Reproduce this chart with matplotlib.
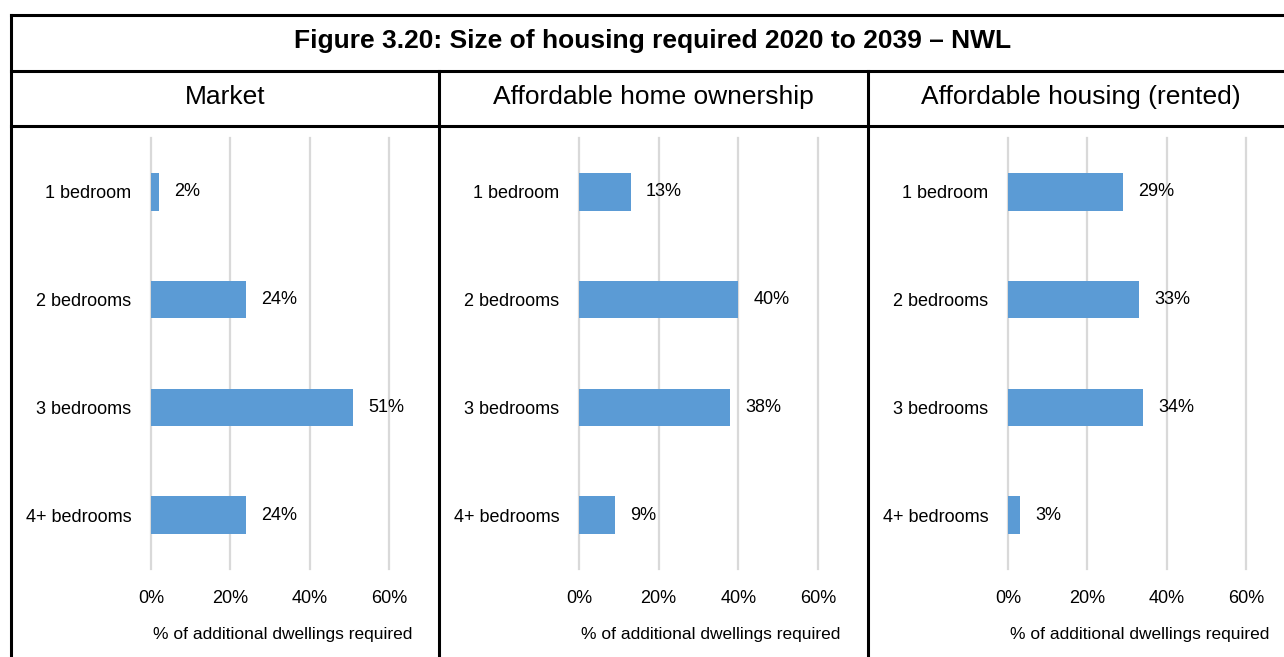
import numpy as np
import matplotlib.pyplot as plt
from matplotlib.lines import Line2D

plt.rcParams['font.family'] = ['Liberation Sans', 'DejaVu Sans']

# ---------------------------------------------------------------------------
# Data
# ---------------------------------------------------------------------------
title = 'Figure 3.20: Size of housing required 2020 to 2039 – NWL'
panels = ['Market', 'Affordable home ownership', 'Affordable housing (rented)']
categories = ['1 bedroom', '2 bedrooms', '3 bedrooms', '4+ bedrooms']
market = [2, 24, 51, 24]
home_ownership = [13, 40, 38, 9]
rented = [29, 33, 34, 3]
x_ticks = [0, 20, 40, 60]
x_label = '% of additional dwellings required'

W, H = 1284, 657
bar_colour = '#5b9bd5'
grid_colour = '#d9d9d9'

fig = plt.figure(figsize=(W / 100, H / 100), dpi=100)


def fx(px):
    return px / W


def fy(py):
    return 1 - py / H


def fline(x0, y0, x1, y1, lw=2.2):
    fig.add_artist(Line2D([fx(x0), fx(x1)], [fy(y0), fy(y1)],
                          color='black', lw=lw, transform=fig.transFigure))


# frame of the table (right edge is cut off in the original)
left, right, top = 11, W, 15
fline(left, top, right, top)
fline(left, top, left, H)
fline(left, 71, right, 71)
fline(left, 126, right, 126)
fline(439, 71, 439, H)
fline(868, 71, 868, H)

fig.text(fx(653), fy(48), title, ha='center', va='baseline',
         fontsize=19, fontweight='bold')

header_x = [225, 653, 1081]
for name, hx in zip(panels, header_x):
    fig.text(fx(hx), fy(104), name, ha='center', va='baseline', fontsize=19)

# plot areas (pixel positions of 0% and 60%)
zero_x = [151, 579, 1008]
sixty_x = [389, 818, 1246]
plot_top, plot_bottom = 138, 569

for values, x0, x1 in zip([market, home_ownership, rented], zero_x, sixty_x):
    ax = fig.add_axes([fx(x0), fy(plot_bottom), fx(x1 - x0),
                       (plot_bottom - plot_top) / H])
    ypos = np.arange(len(categories))
    ax.barh(ypos, values, height=0.35, color=bar_colour, zorder=3)
    ax.set_xlim(0, 60)
    ax.set_ylim(len(categories) - 0.5, -0.5)
    ax.set_xticks(x_ticks)
    ax.set_xticklabels(['%d%%' % t for t in x_ticks])
    ax.set_yticks(ypos)
    ax.set_yticklabels(categories)
    for t in x_ticks:
        ax.axvline(t, color=grid_colour, lw=1.6, zorder=0, clip_on=False)
    for s in ax.spines.values():
        s.set_visible(False)
    ax.tick_params(length=0, labelsize=13)
    ax.tick_params(axis='x', pad=15)
    ax.tick_params(axis='y', pad=14)

    for y, v in zip(ypos, values):
        ax.annotate('%d%%' % v, (v, y), xytext=(11, 0),
                    textcoords='offset points', va='center', ha='left',
                    fontsize=13)

    fig.text(fx(x0 + 132), fy(634), x_label, ha='center', va='center',
             fontsize=12.5)

fig.savefig('out.png', dpi=100)
